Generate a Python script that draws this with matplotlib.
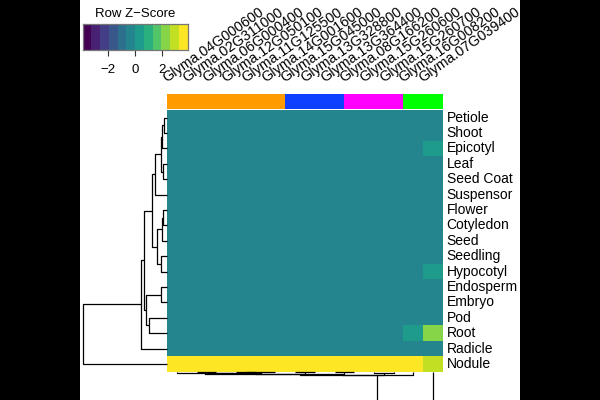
import matplotlib
matplotlib.use("Agg")
import matplotlib.pyplot as plt
import matplotlib.transforms as mtransforms
from matplotlib.colors import ListedColormap, BoundaryNorm
import numpy as np

plt.rcParams['font.family'] = ['Liberation Sans', 'DejaVu Sans']

genes = ["Glyma.04G000600", "Glyma.02G311000", "Glyma.06G000400", "Glyma.12G050100",
         "Glyma.11G125500", "Glyma.14G001600", "Glyma.15G045000", "Glyma.13G328800",
         "Glyma.13G364400", "Glyma.08G166200", "Glyma.15G260600", "Glyma.15G260700",
         "Glyma.16G008200", "Glyma.07G039400"]
gene_colors = ["#FF9A00"] * 6 + ["#1040FF"] * 3 + ["#FF00FF"] * 3 + ["#00FF00"] * 2

tissues = ["Petiole", "Shoot", "Epicotyl", "Leaf", "Seed Coat", "Suspensor", "Flower",
           "Cotyledon", "Seed", "Seedling", "Hypocotyl", "Endosperm", "Embryo", "Pod",
           "Root", "Radicle", "Nodule"]

# z-scores, one list per tissue (columns follow genes)
z_petiole   = [-0.24] * 12 + [-0.27, -0.45]
z_shoot     = [-0.24] * 12 + [-0.27, -0.45]
z_epicotyl  = [-0.24] * 12 + [-0.27, 0.30]
z_leaf      = [-0.24] * 12 + [-0.27, -0.45]
z_seedcoat  = [-0.24] * 12 + [-0.27, -0.45]
z_suspensor = [-0.24] * 12 + [-0.27, -0.45]
z_flower    = [-0.24] * 12 + [-0.27, -0.45]
z_cotyledon = [-0.24] * 12 + [-0.27, -0.45]
z_seed      = [-0.24] * 12 + [-0.27, -0.45]
z_seedling  = [-0.24] * 12 + [-0.27, -0.45]
z_hypocotyl = [-0.24] * 12 + [-0.27, 0.30]
z_endosperm = [-0.24] * 12 + [-0.27, -0.45]
z_embryo    = [-0.24] * 12 + [-0.27, -0.45]
z_pod       = [-0.24] * 12 + [-0.27, -0.45]
z_root      = [-0.24] * 12 + [0.50, 2.30]
z_radicle   = [-0.24] * 12 + [-0.27, -0.45]
z_nodule    = [3.88] * 12 + [3.60, 2.90]

z = np.array([z_petiole, z_shoot, z_epicotyl, z_leaf, z_seedcoat, z_suspensor, z_flower,
              z_cotyledon, z_seed, z_seedling, z_hypocotyl, z_endosperm, z_embryo, z_pod,
              z_root, z_radicle, z_nodule])

key_range = (-3.88, 3.88)
key_ticks = [-2, 0, 2]
n_bins = 12

# row dendrogram merges (left, right, height); leaves 0..16 in display order
row_merges = [(0, 1, 0.036), (17, 2, 0.06), (3, 4, 0.05), (18, 19, 0.075), (20, 5, 0.143),
              (6, 7, 0.048), (22, 8, 0.06), (9, 10, 0.08), (23, 24, 0.12), (21, 25, 0.18),
              (11, 12, 0.075), (13, 14, 0.214), (27, 28, 0.254), (26, 29, 0.275),
              (30, 15, 0.317), (31, 16, 1.0)]
# column dendrogram merges; leaves 0..13
col_merges = [(3, 4, 0.005), (14, 5, 0.01), (1, 2, 0.006), (16, 15, 0.015), (0, 17, 0.02),
              (6, 7, 0.008), (18, 19, 0.025), (8, 9, 0.01), (20, 21, 0.03), (10, 11, 0.012),
              (22, 23, 0.035), (24, 12, 0.04), (25, 13, 1.0)]


def dendro_segments(merges, n_leaves):
    pos = {i: i + 0.5 for i in range(n_leaves)}
    hgt = {i: 0.0 for i in range(n_leaves)}
    segs = []
    for k, (a, b, h) in enumerate(merges):
        node = n_leaves + k
        segs.append(([pos[a], pos[a], pos[b], pos[b]], [hgt[a], h, h, hgt[b]]))
        pos[node] = (pos[a] + pos[b]) / 2
        hgt[node] = h
    return segs


W, H = 600, 400
fig = plt.figure(figsize=(6, 4), dpi=100, facecolor='black')

def rect(x0, y0, x1, y1):
    return [x0 / W, 1 - y1 / H, (x1 - x0) / W, (y1 - y0) / H]

bg = fig.add_axes(rect(80, 0, 519.5, 400), zorder=-5)
bg.set_facecolor('white')
bg.set_xticks([]); bg.set_yticks([])
for s in bg.spines.values():
    s.set_visible(False)

cmap = ListedColormap(plt.get_cmap('viridis', n_bins)(np.arange(n_bins)))
breaks = np.linspace(key_range[0], key_range[1], n_bins + 1)
norm = BoundaryNorm(breaks, n_bins)

hx0, hx1, hy0, hy1 = 167.3, 442.7, 110.0, 371.6
ax = fig.add_axes(rect(hx0, hy0, hx1, hy1))
ax.pcolormesh(np.arange(len(genes) + 1), np.arange(len(tissues) + 1), z, cmap=cmap, norm=norm)
ax.set_xlim(0, len(genes)); ax.set_ylim(len(tissues), 0)
ax.axis('off')
for i, t in enumerate(tissues):
    ax.text(len(genes) + 0.2, i + 0.5, t, ha='left', va='center', fontsize=10)

# side colour strip
axs = fig.add_axes(rect(hx0, 94.2, hx1, 109.3))
for i, c in enumerate(gene_colors):
    axs.bar(i + 0.5, 1, width=1.0, color=c, linewidth=0)
axs.set_xlim(0, len(genes)); axs.set_ylim(0, 1)
axs.axis('off')
tr = mtransforms.blended_transform_factory(axs.transData, fig.transFigure)
for i, g in enumerate(genes):
    axs.text(i - 0.03, 1 - 83 / H, g, transform=tr, rotation=35, rotation_mode='anchor',
             ha='left', va='baseline', fontsize=10.3)

# row dendrogram
axr = fig.add_axes(rect(83.3, hy0, hx0, hy1))
for xs, ys in dendro_segments(row_merges, len(tissues)):
    axr.plot(ys, xs, color='black', lw=0.9, clip_on=False, solid_capstyle='butt')
axr.set_xlim(1.0, 0); axr.set_ylim(len(tissues), 0)
axr.axis('off')

# column dendrogram (below heatmap, extends off the figure)
axc = fig.add_axes(rect(hx0, hy1, hx1, hy1 + 84))
for xs, ys in dendro_segments(col_merges, len(genes)):
    axc.plot(xs, ys, color='black', lw=0.9, clip_on=False, solid_capstyle='butt')
axc.set_xlim(0, len(genes)); axc.set_ylim(1.0, 0)
axc.axis('off')

# colour key
axk = fig.add_axes(rect(82.7, 24.3, 187.7, 50))
axk.pcolormesh(breaks, [0, 1], np.array([(breaks[:-1] + breaks[1:]) / 2]), cmap=cmap, norm=norm)
axk.set_xlim(key_range); axk.set_ylim(0, 1)
axk.set_yticks([])
axk.set_xticks(key_ticks)
axk.set_xticklabels(["\u22122", "0", "2"], fontsize=9.5)
axk.tick_params(axis='x', length=4, width=0.8, color='#333333', pad=6)
for s in axk.spines.values():
    s.set_color('#777777'); s.set_linewidth(0.9)
axk.set_title("Row Z\u2212Score", fontsize=9.5, pad=5)

fig.savefig("out.png", dpi=100, facecolor=fig.get_facecolor())
